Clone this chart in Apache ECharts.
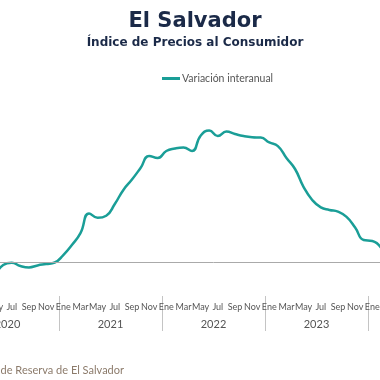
<!DOCTYPE html>
<html>
<head>
<meta charset="utf-8">
<script src="https://cdn.jsdelivr.net/npm/echarts@6/dist/echarts.min.js"></script>
<style>
html,body{margin:0;padding:0;overflow:hidden;width:380px;height:380px;background:#fff;}
#c{position:absolute;left:-100px;top:0;width:590px;height:380px;}
</style>
</head>
<body>
<div id="c"></div>
<script>
var monthNames = ['Ene','Feb','Mar','Abr','May','Jun','Jul','Ago','Sep','Oct','Nov','Dic'];
var years = ['2020','2021','2022','2023','2024'];
var values2020 = [null,null,null,null,-0.9,-0.18,-0.05,-0.24,-0.32,-0.2,-0.12,-0.03];
var values2021 = [0.41,1.0,1.7,2.86,2.6,2.72,3.41,4.24,4.85,5.53,6.24,6.12];
var values2022 = [6.53,6.68,6.74,6.53,7.43,7.74,7.41,7.67,7.53,7.41,7.34,7.32];
var values2023 = [7.03,6.82,6.12,5.47,4.41,3.65,3.21,3.06,2.96,2.65,2.03,1.29];
var values2024 = [1.24,0.85,null,null,null,null,null,null,null,null,null,null];

var categories = [];
years.forEach(function(y){ monthNames.forEach(function(m){ categories.push(m + ' ' + y); }); });
var values = [].concat(values2020, values2021, values2022, values2023, values2024);

var chart = echarts.init(document.getElementById('c'), null, {renderer:'canvas'});
var FONT = 'Lato, "Noto Sans", sans-serif';
var TFONT = '"DejaVu Sans", sans-serif';
chart.setOption({
  animation:false,
  title:{
    text:'El Salvador',
    subtext:'Índice de Precios al Consumidor',
    left:'center', top:6, itemGap:5,
    textStyle:{fontFamily:TFONT,fontSize:21,fontWeight:'bold',color:'#1b2a48'},
    subtextStyle:{fontFamily:TFONT,fontSize:12,fontWeight:'bold',color:'#1b2a48'}
  },
  legend:{
    data:[{name:'Variación interanual', icon:'rect'}],
    left:257, top:68,
    itemWidth:18, itemHeight:3,
    textStyle:{fontFamily:FONT,fontSize:10.5,color:'#555',padding:[0,0,0,-3]}
  },
  grid:{left:56, right:19, top:109, bottom:84, containLabel:false},
  xAxis:[{
    type:'category', data:categories, boundaryGap:true,
    axisLine:{show:false, onZero:false},
    axisTick:{show:true, length:35, interval:function(i){ return i % 12 === 0; }, lineStyle:{color:'#c4c4c4'}},
    axisLabel:{interval:1, margin:7, fontFamily:FONT, fontSize:9, color:'#555',
      formatter:function(v){ return v.split(' ')[0]; }}
  },{
    type:'category', data:years, position:'bottom', boundaryGap:true,
    axisLine:{show:false, onZero:false}, axisTick:{show:false},
    axisLabel:{margin:23, fontFamily:FONT, fontSize:11, color:'#555'}
  }],
  yAxis:{type:'value', min:-2, max:9, show:false, splitLine:{show:false}},
  series:[{
    name:'Variación interanual', type:'line', data:values, xAxisIndex:0,
    smooth:0.5, symbol:'none', connectNulls:false,
    lineStyle:{color:'#1a9e97', width:2.5},
    itemStyle:{color:'#1a9e97'},
    markLine:{silent:true, symbol:'none', label:{show:false},
      lineStyle:{color:'#aaaaaa', width:1, type:'solid'},
      data:[{yAxis:0}]}
  }],
  graphic:[{
    type:'text', right: 590-224, top:365,
    style:{text:'Fuente: Banco Central de Reserva de El Salvador', font:'11px ' + FONT, fill:'#8c7b6b'}
  }]
});
</script>
</body>
</html>
